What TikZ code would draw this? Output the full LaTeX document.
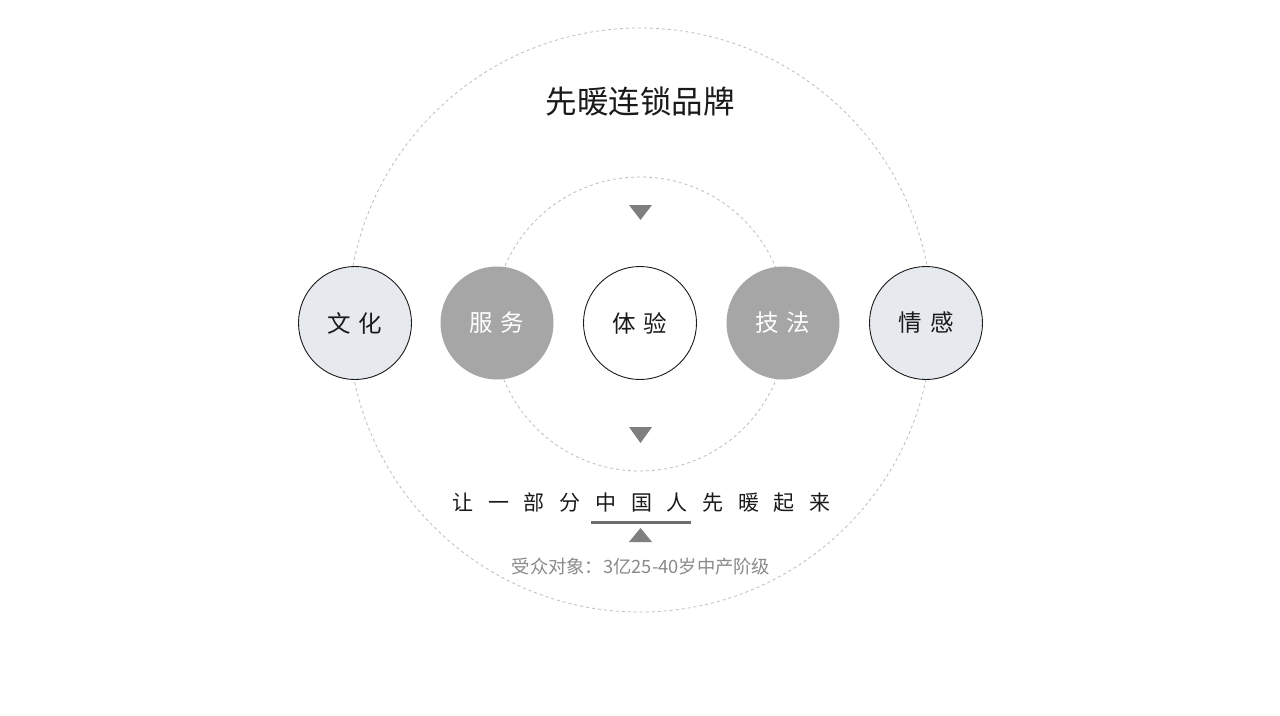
\documentclass[tikz,border=0pt]{standalone}
\usepackage{fontspec}
\setmainfont{Noto Sans CJK SC}
\definecolor{ringgray}{HTML}{BDBDBD}
\definecolor{midgray}{HTML}{A6A6A6}
\definecolor{lightball}{HTML}{E6EAEE}
\definecolor{trigray}{HTML}{7F7F7F}
\definecolor{linegray}{HTML}{6E6E6E}
\definecolor{subgray}{HTML}{8A8A8A}
\definecolor{ink}{HTML}{1A1A1A}
\begin{document}
\begin{tikzpicture}[x=1pt,y=-1pt,
  dashring/.style={draw=ringgray, dash pattern=on 3pt off 3pt, line width=0.8pt},
  ball/.style={circle, minimum size=113pt, inner sep=0pt, line width=0.9pt,
    font=\fontsize{23.5}{23.5}\selectfont},
  lightb/.style={ball, draw=ink, fill=lightball, text=ink},
  grayb/.style={ball, fill=midgray, text=white},
  whiteb/.style={ball, draw=ink, fill=white, text=ink},
  tri/.style={fill=trigray}]
\useasboundingbox (0,0) rectangle (1280,715);
\fill[white] (0,0) rectangle (1280,715);
% rings
\draw[dashring] (640,320) circle[radius=292];
\draw[dashring] (640,324) circle[radius=147];
% title
\node[font=\fontsize{31.5}{31.5}\selectfont, text=ink] (title) at (640,102) {先暖连锁品牌};
% balls
\node[lightb] (wenhua) at (355,323) {文\hspace{8pt}化};
\node[grayb]  (fuwu)   at (497,323) {服\hspace{8pt}务};
\node[whiteb] (tiyan)  at (640,323) {体\hspace{8pt}验};
\node[grayb]  (jifa)   at (783,323) {技\hspace{8pt}法};
\node[lightb] (qinggan) at (926,323) {情\hspace{8pt}感};
% triangles
\fill[tri] (629,205) -- (652,205) -- (640.5,220) -- cycle;
\fill[tri] (629,427) -- (652,427) -- (640.5,443) -- cycle;
\fill[tri] (629,542) -- (652,542) -- (640.5,528) -- cycle;
% slogan
\node[font=\fontsize{21}{21}\selectfont, text=ink, inner sep=0pt] (slogan) at (641.5,503)
  {让\hspace{14.7pt}一\hspace{14.7pt}部\hspace{14.7pt}分\hspace{14.7pt}中\hspace{14.7pt}国\hspace{14.7pt}人\hspace{14.7pt}先\hspace{14.7pt}暖\hspace{14.7pt}起\hspace{14.7pt}来};
\fill[linegray] (591,520.5) rectangle (691,523.5);
% subtitle
\node[font=\fontsize{18.3}{18.3}\selectfont, text=subgray, inner sep=0pt] (sub) at (641,567)
  {受众对象：3亿25-40岁中产阶级};
\end{tikzpicture}
\end{document}
